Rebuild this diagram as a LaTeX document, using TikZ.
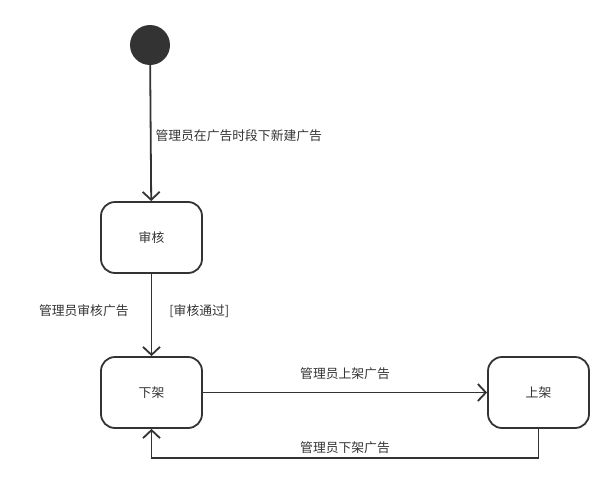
\documentclass[tikz,border=0pt]{standalone}
\usepackage{fontspec}
\setmainfont{Noto Sans CJK SC}
\usetikzlibrary{arrows.meta}
\definecolor{linegray}{HTML}{333333}
\definecolor{textgray}{HTML}{333333}
\begin{document}
\begin{tikzpicture}[x=1pt,y=-1pt,
  state/.style={draw=linegray,line width=1.8pt,rounded corners=14pt,minimum width=101pt,minimum height=71pt,inner sep=0pt,text=textgray,font=\fontsize{12.8}{15}\selectfont},
  edge/.style={draw=linegray,line width=1.8pt,-{Straight Barb[length=8pt,width=17pt]}},
  lbl/.style={font=\fontsize{12.8}{15}\selectfont,text=textgray,inner sep=3pt}]
\useasboundingbox (0,0) rectangle (613,482);

\node[circle,fill=linegray,minimum size=40pt,inner sep=0pt] (start) at (150,45) {};
\node[state] (shenhe) at (151.5,237.5) {审核};
\node[state] (xiajia) at (151.5,392.5) {下架};
\node[state] (shangjia) at (538.5,392.5) {上架};

\path[edge] (start) -- node[lbl,right,xshift=1pt,yshift=-3pt] {管理员在广告时段下新建广告} (shenhe);
\path[edge] (shenhe) -- node[lbl,left,xshift=-19pt,yshift=4pt] {管理员审核广告}
  node[lbl,right,xshift=14pt,yshift=4pt] {[审核通过]} (xiajia);
\path[edge] (xiajia) -- node[lbl,above,yshift=9pt] {管理员上架广告} (shangjia);
\path[edge] (shangjia.south) -- ++(0,29) -| node[lbl,pos=0.25,above] {管理员下架广告} (xiajia.south);
\end{tikzpicture}
\end{document}
